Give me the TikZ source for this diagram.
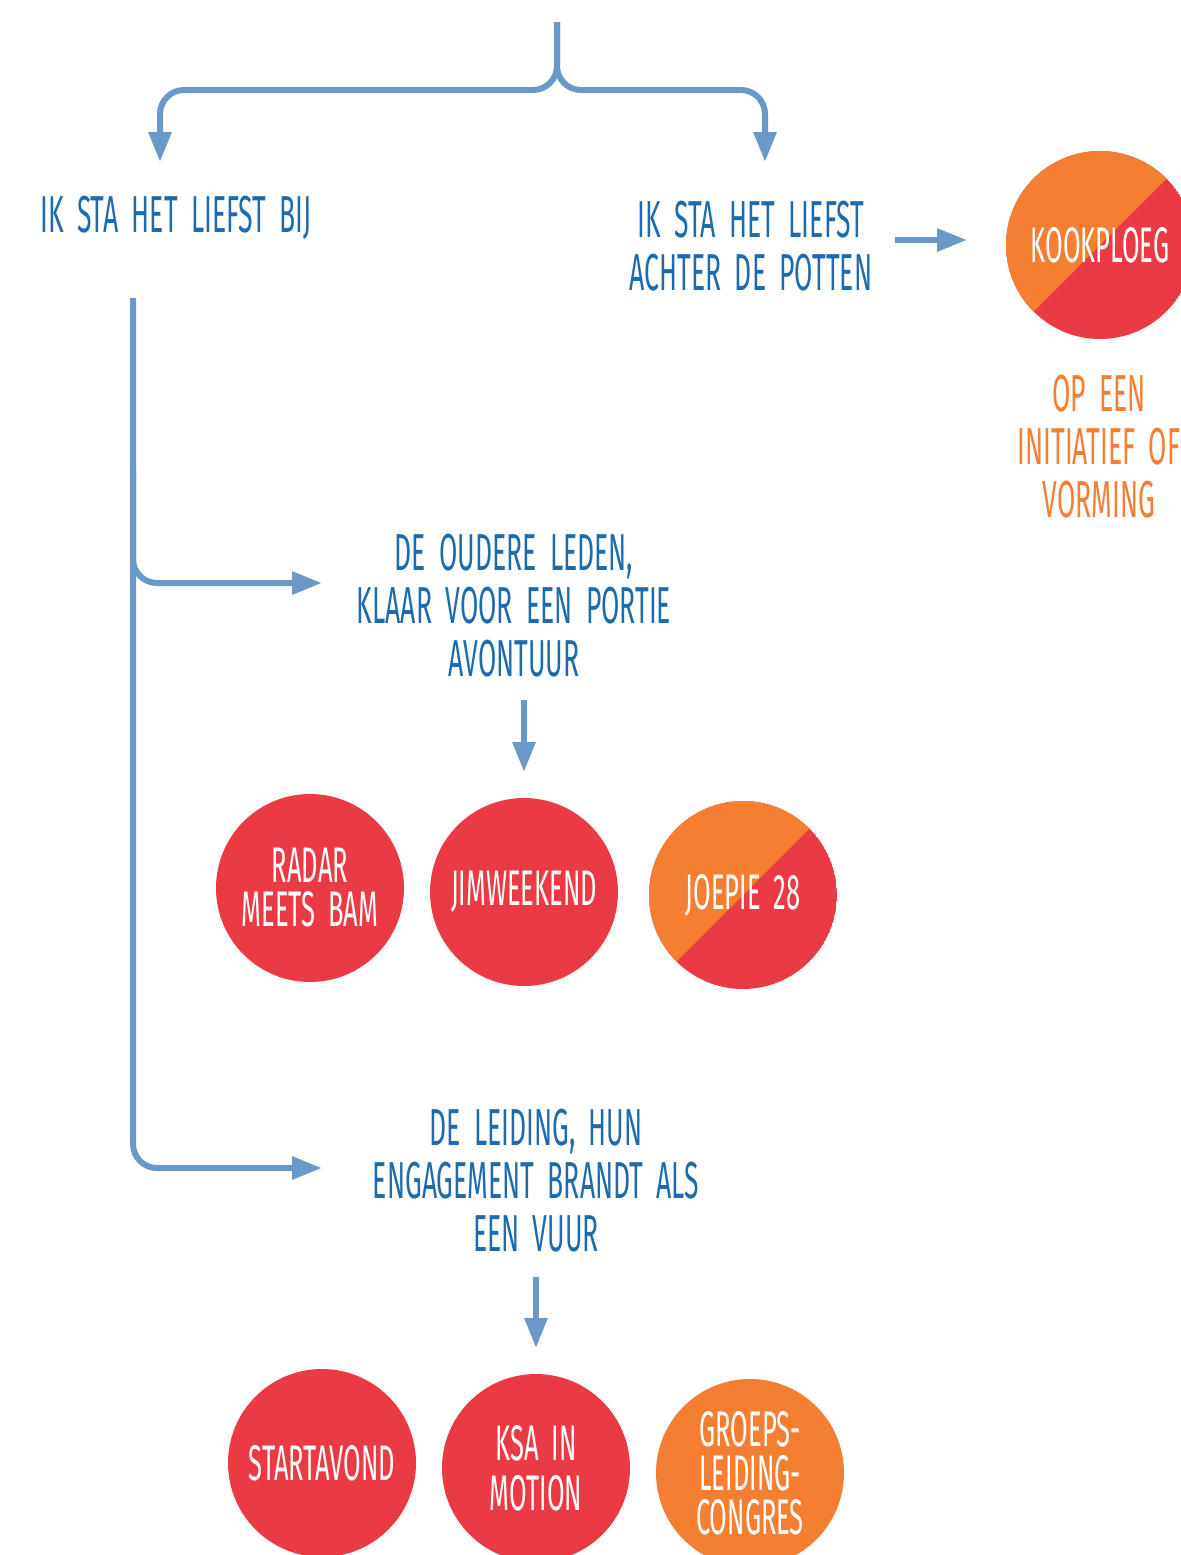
\documentclass[tikz,border=0pt]{standalone}
\usepackage{fontspec}
\setmainfont{Fira Sans}[FakeStretch=0.51,WordSpace=1.9]
\usetikzlibrary{arrows.meta,calc}
\definecolor{arrowblue}{HTML}{6A98C8}
\definecolor{textblue}{HTML}{1D6BAF}
\definecolor{korange}{HTML}{F47F32}
\definecolor{kred}{HTML}{EA3A43}
\begin{document}
\begin{tikzpicture}[x=0.5pt,y=-0.5pt,
  conn/.style={draw=arrowblue,line width=3pt,-{Triangle[length=15pt,width=11pt]},rounded corners=12pt},
  lbl/.style={text=textblue,align=center,inner sep=0pt,font=\fontsize{26}{26.5}\selectfont},
  olbl/.style={lbl,text=korange},
  disc/.style={circle,minimum size=94pt,inner sep=0pt,text=white,align=center,font=\fontsize{25}{22}\selectfont},
  reddisc/.style={disc,fill=kred},
  orangedisc/.style={disc,fill=korange}]
\useasboundingbox (0,0) rectangle (1181,1555);
\fill[white] (0,0) rectangle (1181,1555);

% split discs (orange upper-left, red lower-right)
\foreach \cx/\cy in {1100/245, 743/895}{
  \begin{scope}
    \clip (\cx,\cy) circle (47pt);
    \fill[kred] (\cx,\cy) circle (47pt);
    \fill[korange] (\cx-200,\cy+200) -- (\cx+200,\cy-200) -- (\cx-200,\cy-200) -- cycle;
  \end{scope}
}

% text nodes
\node[lbl] (bij) at (176,218) {IK STA HET LIEFST BIJ};
\node[lbl] (potten) at (751,246) {IK STA HET LIEFST\\ACHTER DE POTTEN};
\node[disc] (kook) at (1100,245) {KOOKPLOEG};
\node[olbl] (vorming) at (1099,447) {OP EEN\\INITIATIEF OF\\VORMING};
\node[lbl] (ouder) at (514,606) {DE OUDERE LEDEN,\\KLAAR VOOR EEN PORTIE\\AVONTUUR};
\node[reddisc] (radar) at (310,888) {RADAR\\MEETS BAM};
\node[reddisc] (jim) at (524,892) {JIMWEEKEND};
\node[disc] (joepie) at (743,895) {JOEPIE 28};
\node[lbl] (leiding) at (536,1181) {DE LEIDING, HUN\\ENGAGEMENT BRANDT ALS\\EEN VUUR};
\node[reddisc] (start) at (322,1463) {STARTAVOND};
\node[reddisc,font=\fontsize{25}{25}\selectfont] (ksa) at (536,1468) {KSA IN\\MOTION};
\node[orangedisc] (groeps) at (750,1473) {GROEPS-\\LEIDING-\\CONGRES};

% coordinates for connector ends
\coordinate (top) at (557,22);
\coordinate (tipL) at (160,162);
\coordinate (tipR) at (765,162);
\coordinate (kookS) at (895,240);
\coordinate (kookE) at (967,240);
\coordinate (vtop) at (133,298);
\coordinate (branch) at (133,470);
\coordinate (tipOuder) at (322,583);
\coordinate (tipLeiding) at (322,1168);
\coordinate (oudS) at (524,700);
\coordinate (oudE) at (524,772);
\coordinate (leiS) at (536,1277);
\coordinate (leiE) at (536,1348);

% connectors
\draw[conn] (top) -- (557,90) -- (160,90) -- (tipL);
\draw[conn] (top) -- (557,90) -- (765,90) -- (tipR);
\draw[conn] (kookS) -- (kookE);
\draw[conn] (vtop) |- (tipLeiding);
\draw[conn] (branch) |- (tipOuder);
\draw[conn] (oudS) -- (oudE);
\draw[conn] (leiS) -- (leiE);
\end{tikzpicture}
\end{document}
